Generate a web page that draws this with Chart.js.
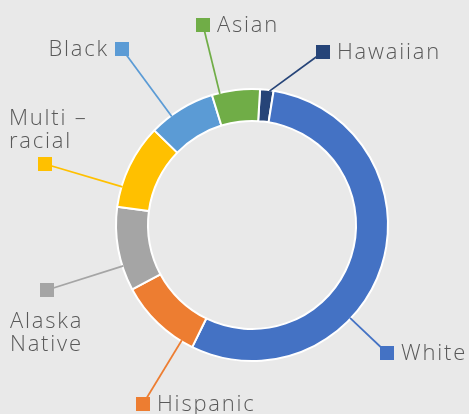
<!DOCTYPE html>
<html lang="en">
<head>
    <meta charset="UTF-8">
    <title>Doughnut</title>
    <style>
        body {
            margin: 0;
            padding: 0;
            background-color: #e9e9e9;
        }
        #wrap {
            position: relative;
            width: 469px;
            height: 414px;
        }
    </style>
    <script src="https://cdn.jsdelivr.net/npm/chart.js"></script>
</head>
<body>

<div id="wrap">
    <canvas id="myChart"></canvas>
</div>

<script>
    // Categories, clockwise starting near the top
    const categories = ['Hawaiian', 'White', 'Hispanic', ['Alaska', 'Native'], ['Multi –', 'racial'], 'Black', 'Asian'];
    const shares = [1.6, 54.7, 9.9, 10.0, 10.1, 8.0, 5.7];
    const colors = ['#264478', '#4472C4', '#ED7D31', '#A5A5A5', '#FFC000', '#5B9BD5', '#70AD47'];

    // where each outside label goes (square marker centre + text placement)
    const labelSpots = [
        { sx: 323, sy: 52, side: 'right' },
        { sx: 387, sy: 353, side: 'right' },
        { sx: 143, sy: 404, side: 'right' },
        { sx: 47, sy: 290, side: 'below', tx: 10, ty: 328 },
        { sx: 45, sy: 164, side: 'above', tx: 9, ty: 125 },
        { sx: 122, sy: 49, side: 'left' },
        { sx: 203, sy: 25, side: 'right' }
    ];

    const FONT = '300 22px "Open Sans", sans-serif';
    const TEXT_COLOR = '#595959';

    // draws leader lines, square markers and the category names
    const outsideLabels = {
        id: 'outsideLabels',
        afterDatasetsDraw(chart) {
            const ctx = chart.ctx;
            const meta = chart.getDatasetMeta(0);
            ctx.save();
            meta.data.forEach((arc, i) => {
                const spot = labelSpots[i];
                const col = colors[i];
                const p = arc.getProps(['x', 'y', 'startAngle', 'endAngle', 'outerRadius'], true);

                // aim the leader at the marker, kept inside the slice
                let a = Math.atan2(spot.sy - p.y, spot.sx - p.x);
                while (a < p.startAngle) a += Math.PI * 2;
                while (a > p.startAngle + Math.PI * 2) a -= Math.PI * 2;
                const pad = Math.min(0.03, (p.endAngle - p.startAngle) / 3);
                if (a > p.endAngle) {
                    const dEnd = a - p.endAngle;
                    const dStart = p.startAngle + Math.PI * 2 - a;
                    a = dEnd < dStart ? p.endAngle - pad : p.startAngle + pad;
                }
                a = Math.max(p.startAngle + pad, Math.min(p.endAngle - pad, a));
                const r = p.outerRadius - 1;
                const lx = p.x + Math.cos(a) * r;
                const ly = p.y + Math.sin(a) * r;

                ctx.strokeStyle = col;
                ctx.lineWidth = 1.75;
                ctx.beginPath();
                ctx.moveTo(lx, ly);
                ctx.lineTo(spot.sx, spot.sy);
                ctx.stroke();

                ctx.fillStyle = col;
                ctx.fillRect(spot.sx - 7, spot.sy - 7, 14, 14);

                ctx.fillStyle = TEXT_COLOR;
                ctx.font = FONT;
                ctx.letterSpacing = '1.8px';
                ctx.textBaseline = 'alphabetic';
                const lines = Array.isArray(categories[i]) ? categories[i] : [categories[i]];
                if (spot.side === 'right') {
                    ctx.textAlign = 'left';
                    ctx.fillText(lines[0], spot.sx + 14, spot.sy + 7);
                } else if (spot.side === 'left') {
                    ctx.textAlign = 'right';
                    ctx.fillText(lines[0], spot.sx - 13, spot.sy + 7);
                } else {
                    ctx.textAlign = 'left';
                    lines.forEach((t, k) => ctx.fillText(t, spot.tx, spot.ty + k * 23));
                }
            });
            ctx.restore();
        }
    };

    const ctx = document.getElementById('myChart').getContext('2d');
    const chart = new Chart(ctx, {
        type: 'doughnut',
        data: {
            labels: categories,
            datasets: [{
                data: shares,
                backgroundColor: colors,
                borderColor: '#ffffff',
                borderWidth: 2
            }]
        },
        options: {
            responsive: true,
            maintainAspectRatio: false,
            animation: false,
            rotation: 3.4,
            cutout: '76.5%',
            layout: {
                padding: { left: 115, right: 80, top: 88, bottom: 52 }
            },
            plugins: {
                legend: { display: false },
                tooltip: { enabled: false }
            }
        },
        plugins: [outsideLabels]
    });
</script>

</body>
</html>
